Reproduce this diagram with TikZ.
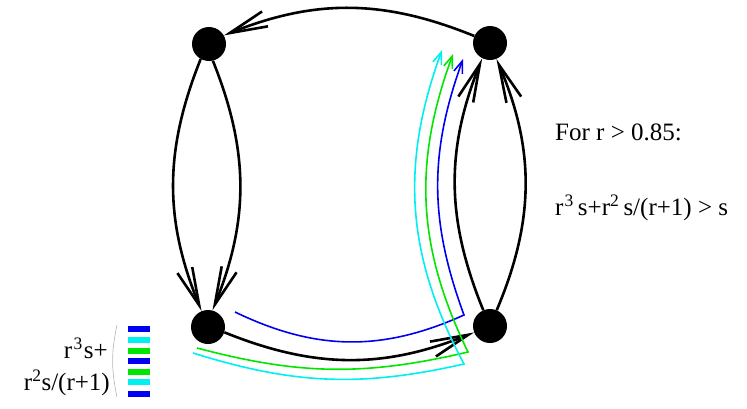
\documentclass[tikz,border=0pt]{standalone}
\usepackage{fontspec}
\setmainfont{Liberation Serif}
\usetikzlibrary{arrows.meta}
\definecolor{blueC}{RGB}{0,0,240}
\definecolor{cyanC}{RGB}{0,240,240}
\definecolor{greenC}{RGB}{0,230,0}
\tikzset{
  dot/.style={circle,fill=black,draw=none,minimum size=34bp,inner sep=0pt},
  blackarrow/.style={line width=2.6bp,-{Straight Barb[length=38bp,width=16bp]}},
  colarrow/.style={line width=1.6bp,-{Straight Barb[length=12bp,width=9bp]}},
  txt/.style={inner sep=0pt,font=\fontsize{25bp}{30bp}\selectfont},
  stripe/.style={draw=none,minimum width=22bp,minimum height=6bp,inner sep=0pt}
}
\begin{document}
\begin{tikzpicture}[x=1bp,y=-1bp]
\useasboundingbox (0,0) rectangle (747,408);
% nodes
\node[dot] (tl) at (209,44) {};
\node[dot] (tr) at (490,43) {};
\node[dot] (bl) at (208,327) {};
\node[dot] (br) at (490,326) {};
% black arrows
\draw[blackarrow] (tr.156) to[bend right=22] (tl.30);
\draw[blackarrow] (tl.241) to[bend right=22] (bl.112);
\draw[blackarrow] (tl.283) to[bend left=22] (bl.75);
\draw[blackarrow] (br.113) to[bend left=22] (tr.243);
\draw[blackarrow] (br.67) to[bend right=23] (tr.292);
\draw[blackarrow] (bl.342) to[bend right=22] (br.202);
% coloured paths
\coordinate (b1) at (235,312);
\coordinate (b2) at (464,315);
\coordinate (b3) at (463,59);
\coordinate (g1) at (197,348);
\coordinate (g2) at (468,352);
\coordinate (g3) at (453,54);
\coordinate (c1) at (193,353);
\coordinate (c2) at (464,364);
\coordinate (c3) at (442,50);
\draw[colarrow,blueC] (b1) to[bend right=25] (b2) to[bend left=20] (b3);
\draw[colarrow,greenC] (g1) to[bend right=14] (g2) to[bend left=23] (g3);
\draw[colarrow,cyanC] (c1) to[bend right=15] (c2) to[bend left=24] (c3);
% texts
\node[txt,anchor=base west] (t1) at (555,140) {For r > 0.85:};
\node[txt,anchor=base west] (t2) at (555,215) {r\kern1bp\textsuperscript{3}\,s+r\textsuperscript{2}\,s/(r+1) > s};
\node[txt,anchor=base east] (l1) at (108,358) {r\kern1.5bp\textsuperscript{3}\kern1bp s+};
\node[txt,anchor=base east] (l2) at (110,390) {r\textsuperscript{2}s/(r+1)};
% bracket
\coordinate (p1) at (117,325);
\coordinate (p2) at (117,397);
\draw[gray!60,line width=0.6bp] (p1) to[bend right=12] (p2);
% stripes
\node[stripe,fill=blueC]  (s1) at (139,328.5) {};
\node[stripe,fill=cyanC]  (s2) at (139,339.5) {};
\node[stripe,fill=greenC] (s3) at (139,350.5) {};
\node[stripe,fill=blueC]  (s4) at (139,361) {};
\node[stripe,fill=greenC] (s5) at (139,371.5) {};
\node[stripe,fill=cyanC]  (s6) at (139,381.5) {};
\node[stripe,fill=blueC]  (s7) at (139,393.5) {};
\end{tikzpicture}
\end{document}
